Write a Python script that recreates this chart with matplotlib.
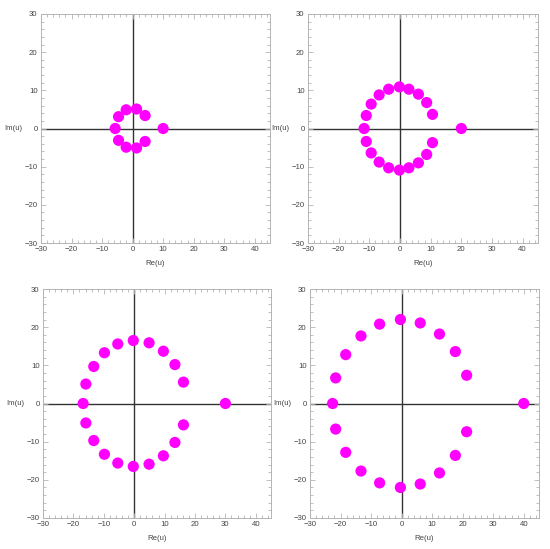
import matplotlib
matplotlib.use("Agg")
import matplotlib.pyplot as plt
from matplotlib.ticker import MultipleLocator

# Panel data (Re, Im of points); upper-half ring points mirrored to lower half
p1_re = [10.0, -5.7, -4.6, -2.1, 1.3, 4.1, -4.6, -2.1, 1.3, 4.1]
p1_im = [0.0, 0.0, 3.1, 4.9, 5.1, 3.4, -3.1, -4.9, -5.1, -3.4]

p2_re = [20.0, -11.7, -11.0, -9.4, -6.8, -3.7, -0.2, 2.9, 6.0, 8.7, 10.6,
         -11.0, -9.4, -6.8, -3.7, -0.2, 2.9, 6.0, 8.7, 10.6]
p2_im = [0.0, 0.0, 3.4, 6.4, 8.8, 10.3, 10.9, 10.3, 9.0, 6.8, 3.7,
         -3.4, -6.4, -8.8, -10.3, -10.9, -10.3, -9.0, -6.8, -3.7]

p3_re = [30.0, -16.8, -15.9, -13.3, -9.8, -5.4, -0.3, 4.9, 9.6, 13.4, 16.2,
         -15.9, -13.3, -9.8, -5.4, -0.3, 4.9, 9.6, 13.4, 16.2]
p3_im = [0.0, 0.0, 5.1, 9.7, 13.3, 15.6, 16.5, 15.9, 13.7, 10.2, 5.6,
         -5.1, -9.7, -13.3, -15.6, -16.5, -15.9, -13.7, -10.2, -5.6]

p4_re = [40.0, -22.6, -21.6, -18.3, -13.3, -7.2, -0.4, 6.1, 12.4, 17.6, 21.3,
         -21.6, -18.3, -13.3, -7.2, -0.4, 6.1, 12.4, 17.6, 21.3]
p4_im = [0.0, 0.0, 6.7, 12.8, 17.7, 20.8, 22.0, 21.1, 18.2, 13.6, 7.4,
         -6.7, -12.8, -17.7, -20.8, -22.0, -21.1, -18.2, -13.6, -7.4]

panels = [(p1_re, p1_im), (p2_re, p2_im), (p3_re, p3_im), (p4_re, p4_im)]

xticks = [-30, -20, -10, 0, 10, 20, 30, 40]
yticks = [-30, -20, -10, 0, 10, 20, 30]

plt.rcParams['font.family'] = ['Liberation Sans', 'DejaVu Sans']

W, H = 550, 549
fig = plt.figure(figsize=(W / 100, H / 100), dpi=100)

# axes boxes in pixels: left, top, right, bottom
boxes = [(41, 14, 270, 243), (308, 14, 538, 243),
         (43, 289, 271, 518), (310, 289, 539, 518)]

frame_col = "#b4b4b4"
text_col = "#444444"
fs = 5.6

for (re, im), (l, t, r, b) in zip(panels, boxes):
    ax = fig.add_axes([l / W, 1 - b / H, (r - l) / W, (b - t) / H])
    ax.set_xlim(-30, 45)
    ax.set_ylim(-30, 30)
    ax.axhline(0, color="#333333", lw=1.0, zorder=1)
    ax.axvline(0, color="#333333", lw=1.0, zorder=1)
    ax.scatter(re, im, s=65, color="#ff00ff", edgecolors="none", zorder=3)
    ax.set_xticks(xticks)
    ax.set_yticks(yticks)
    ax.xaxis.set_minor_locator(MultipleLocator(2))
    ax.yaxis.set_minor_locator(MultipleLocator(2))
    ax.tick_params(which="both", direction="in", top=True, right=True,
                   color=frame_col, width=0.6, labelsize=fs,
                   labelcolor=text_col, pad=2.5)
    ax.tick_params(which="major", length=3.5)
    ax.tick_params(which="minor", length=2)
    for sp in ax.spines.values():
        sp.set_color(frame_col)
        sp.set_linewidth(0.7)
    # axis labels
    ax.text(0.5, -0.075, "Re(u)", transform=ax.transAxes, ha="center",
            va="top", fontsize=fs, color=text_col)
    ax.text(-0.082, 0.5, "Im(u)", transform=ax.transAxes, ha="right",
            va="center", fontsize=fs, color=text_col)

fig.savefig("out.png", dpi=100, facecolor="white")
